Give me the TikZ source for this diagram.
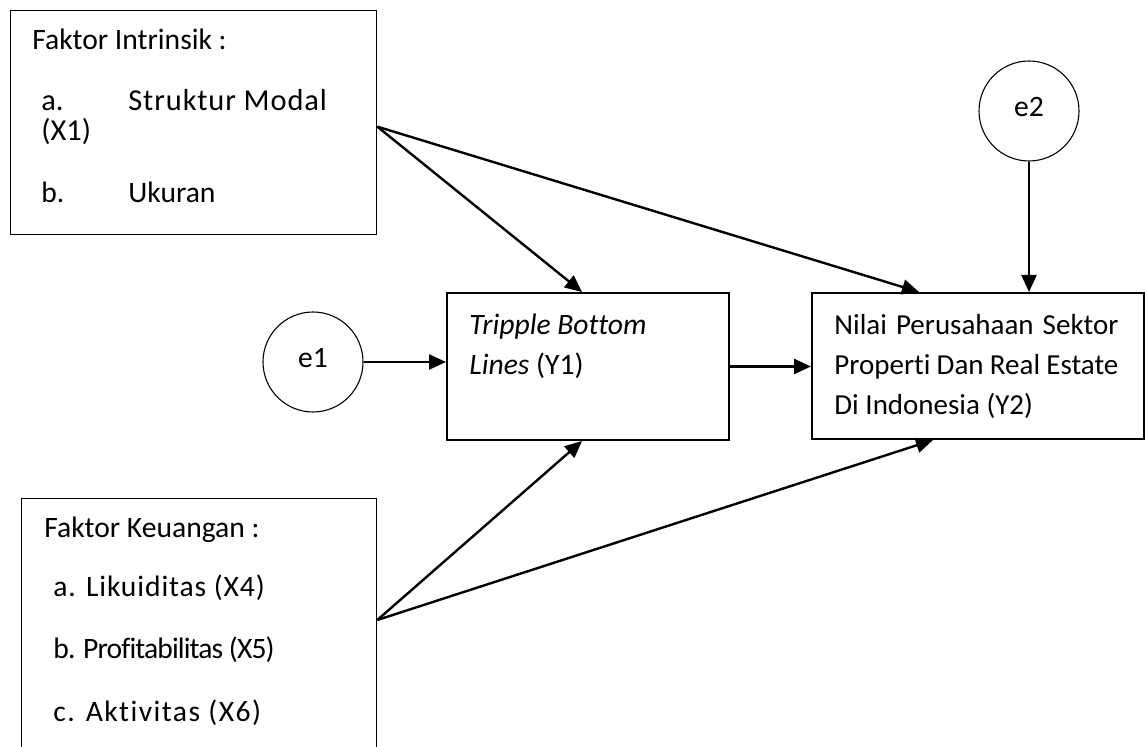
\documentclass[tikz,border=0pt]{standalone}
\usepackage{fontspec}
\setmainfont{Carlito}[Ligatures={NoCommon}]
\usetikzlibrary{arrows.meta}
\tikzset{
  every node/.style={font=\fontsize{14.8pt}{17pt}\selectfont},
  thinbox/.style={draw, line width=0.65pt, rectangle, inner sep=0pt},
  mainbox/.style={draw, line width=1pt, rectangle, inner sep=0pt},
  errnode/.style={circle, draw, line width=0.55pt, inner sep=0pt, minimum size=50pt},
  arr/.style={line width=1.2pt, -{Triangle[length=8.5pt,width=7.5pt]}},
  txt/.style={anchor=base west, inner sep=0pt},
  ytxt/.style={anchor=base west, inner sep=0pt, font=\fontsize{14.5pt}{17pt}\selectfont},
}
\begin{document}
\begin{tikzpicture}[x=0.5pt, y=-0.5pt]
\useasboundingbox (0,0) rectangle (1145,747);
\begin{scope}
\clip (0,0) rectangle (1145,747);
% boxes
\node[thinbox, anchor=north west, minimum width=183pt, minimum height=112pt] (b1) at (10,10) {};
\node[thinbox, anchor=north west, minimum width=177.5pt, minimum height=150pt] (b2) at (21,498) {};
\end{scope}
\node[mainbox, anchor=north west, minimum width=141pt, minimum height=73.5pt] (y1) at (446,292) {};
\node[mainbox, anchor=north west, minimum width=166pt, minimum height=73pt] (y2) at (811,292) {};
\node[errnode] (e1) at (313,362) {};
\node[errnode] (e2) at (1029,111) {};
% texts
\node[txt] (t1a) at (32,50) {Faktor Intrinsik :};
\node[txt] (t1b) at (41,111) {\fontsize{15.2pt}{17pt}\selectfont a.};
\node[txt] (t1c) at (128,111) {\fontsize{15.2pt}{17pt}\selectfont\addfontfeature{LetterSpace=3}Struktur Modal};
\node[txt] (t1d) at (41,141) {\fontsize{15.2pt}{17pt}\selectfont (X1)};
\node[txt] (t1e) at (41,203) {b.};
\node[txt] (t1f) at (128,203) {Ukuran};
\node[txt] (t2a) at (44,538) {Faktor Keuangan :};
\node[txt] (t2b) at (53,597) {\addfontfeature{LetterSpace=3}a. Likuiditas (X4)};
\node[txt] (t2c) at (53,659) {\addfontfeature{LetterSpace=-3}b. Profitabilitas (X5)};
\node[txt] (t2d) at (53,721) {\addfontfeature{LetterSpace=5}c. Aktivitas (X6)};
\node[txt] (ty1a) at (469,335) {\textit{Tripple Bottom}};
\node[txt] (ty1b) at (469,375) {\textit{Lines} (Y1)};
\node[ytxt] (ty2a) at (834,335) {\makebox[142pt][s]{Nilai Perusahaan Sektor}};
\node[ytxt] (ty2b) at (834,375) {\makebox[142pt][s]{Properti Dan Real Estate}};
\node[ytxt] (ty2c) at (834,415) {Di Indonesia (Y2)};
\node (e1t) at ([yshift=2pt]e1.center) {e1};
\node (e2t) at ([yshift=2pt]e2.center) {e2};
% connectors
\coordinate (b1out) at ([yshift=-2pt]b1.east);
\coordinate (b2out) at ([yshift=-61pt]b2.north east);
\draw[arr] (b1out) -- ([xshift=68pt]y1.north west);
\draw[arr] (b1out) -- ([xshift=54pt]y2.north west);
\draw[arr] (b2out) -- ([xshift=68pt]y1.south west);
\draw[arr] (b2out) -- ([xshift=61pt]y2.south west);
\draw[arr] (e1.east) -- (e1.east -| y1.west);
\draw[arr] (y1.east) -- (y1.east -| y2.west);
\draw[arr] (e2.south) -- (e2.south |- y2.north);
\end{tikzpicture}
\end{document}
